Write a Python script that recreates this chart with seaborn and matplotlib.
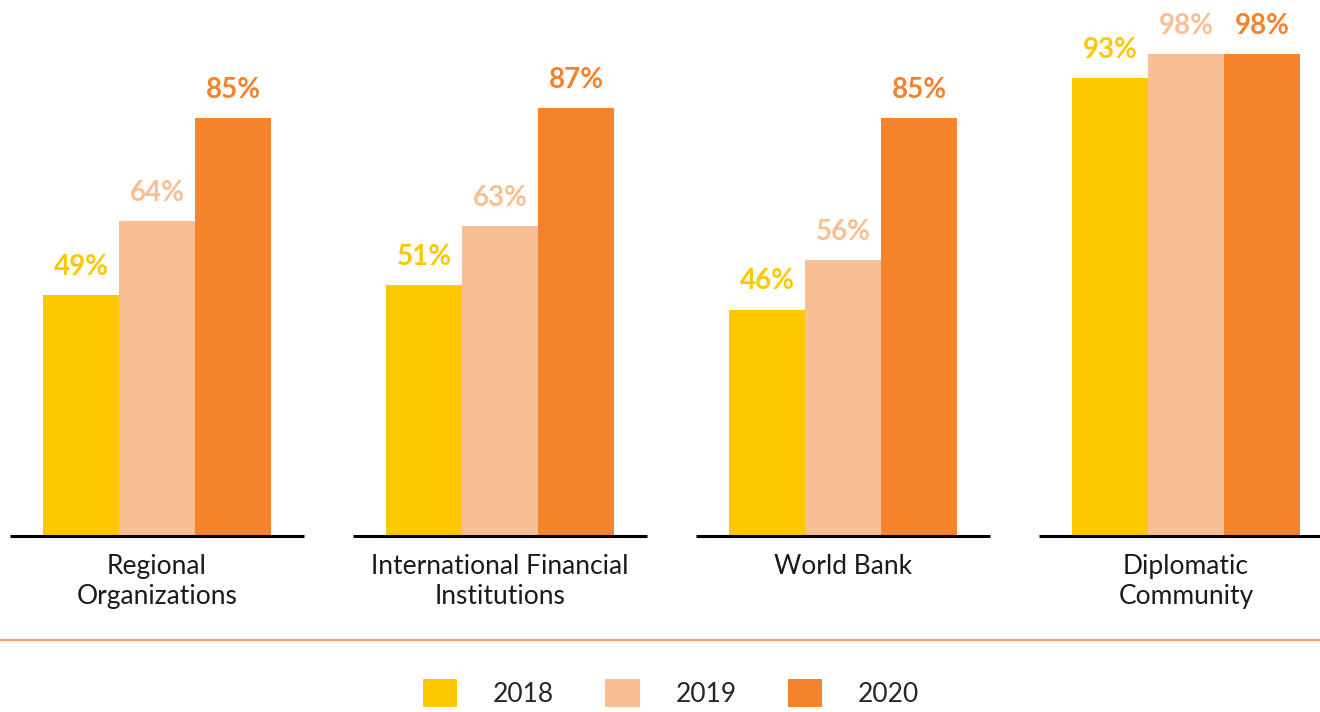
import pandas as pd
import matplotlib.pyplot as plt
import seaborn as sns
from matplotlib.lines import Line2D

categories = ["Regional\nOrganizations", "International Financial\nInstitutions",
              "World Bank", "Diplomatic\nCommunity"]
years = ["2018", "2019", "2020"]
values_2018 = [49, 51, 46, 93]
values_2019 = [64, 63, 56, 98]
values_2020 = [85, 87, 85, 98]
colors = ["#FDC800", "#F8BF95", "#F5832B"]

df = pd.DataFrame({
    "category": categories * 3,
    "year": [y for y in years for _ in categories],
    "value": values_2018 + values_2019 + values_2020,
})

sns.set_style("white")
plt.rcParams["font.family"] = ["Lato", "DejaVu Sans"]

fig = plt.figure(figsize=(13.2, 7.12), dpi=100)
ax = fig.add_axes([0, 176 / 712, 1, 536 / 712])

sns.barplot(data=df, x="category", y="value", hue="year", hue_order=years,
            palette=colors, width=0.665, gap=0, saturation=1, ax=ax,
            linewidth=0, legend=True)

for cont, c in zip(ax.containers, colors):
    ax.bar_label(cont, fmt="{:.0f}%", padding=11, color=c,
                 fontsize=20, fontweight="bold")

# short baseline under each group
for i in range(len(categories)):
    ax.plot([i - 0.43, i + 0.43], [0, 0], color="black", lw=2.2,
            solid_capstyle="butt", clip_on=False)

ax.set_xlim(-157 / 343, (1320 - 157) / 343)
ax.set_ylim(0, 536 / 4.92)
ax.set_yticks([])
ax.set_xlabel("")
ax.set_ylabel("")
ax.tick_params(axis="x", length=0, pad=13, labelsize=19)
for lab in ax.get_xticklabels():
    lab.set_linespacing(1.25)
    lab.set_color("#1a1a1a")
sns.despine(ax=ax, left=True, bottom=True)

fig.add_artist(Line2D([0, 1], [1 - 640 / 712, 1 - 640 / 712],
                      color="#F5A36A", lw=1.6))

handles, labels = ax.get_legend_handles_labels()
ax.get_legend().remove()
fig.legend(handles, labels, loc="center", bbox_to_anchor=(671 / 1320, 1 - 693 / 712),
           ncol=3, frameon=False, handlelength=1.3, handleheight=1.3,
           handletextpad=1.35, columnspacing=1.95, prop={"size": 19})

plt.savefig("out.png", dpi=100)
